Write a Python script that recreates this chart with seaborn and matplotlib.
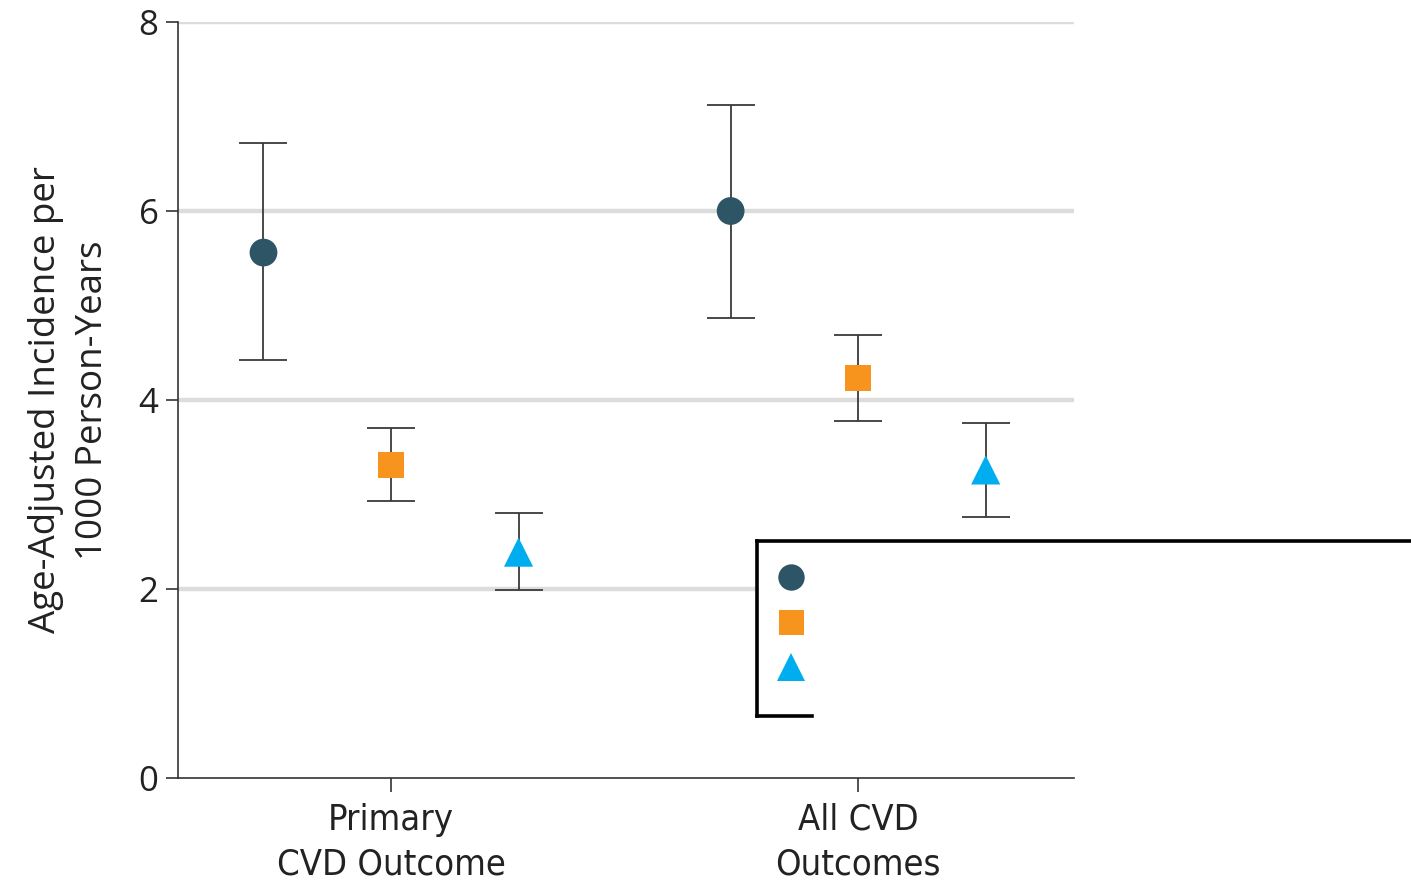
import matplotlib
matplotlib.use("Agg")
import matplotlib.pyplot as plt
from matplotlib.lines import Line2D
import pandas as pd
import seaborn as sns

# Age-adjusted incidence (per 1000 person-years) with 95% CIs
outcomes = ["Primary\nCVD Outcome", "All CVD\nOutcomes"]
groups = ["Group 1", "Group 2", "Group 3"]
rate = [[5.56, 3.31, 2.39], [6.00, 4.23, 3.26]]
ci_low = [[4.42, 2.93, 1.99], [4.87, 3.78, 2.76]]
ci_high = [[6.72, 3.70, 2.80], [7.12, 4.69, 3.76]]
yticks = [0, 2, 4, 6, 8]

colors = ["#2e5566", "#f7941d", "#00aeef"]
markers = ["o", "s", "^"]
sizes = [20, 19, 21]

sns.set_theme(style="white")
plt.rcParams["font.family"] = ["Open Sans", "DejaVu Sans"]

rows = []
for i, oc in enumerate(outcomes):
    for j, g in enumerate(groups):
        rows.append(dict(outcome=oc, oi=i, group=g, gi=j,
                         rate=rate[i][j], lo=ci_low[i][j], hi=ci_high[i][j]))
df = pd.DataFrame(rows)
dodge = 0.273
df["xpos"] = df["oi"] + (df["gi"] - 1) * dodge

fig = plt.figure(figsize=(14.11, 8.82), dpi=100)
ax = fig.add_axes([178 / 1411, 1 - 778 / 882, (1074 - 178) / 1411, (778 - 22) / 882])

for y in yticks[1:]:
    ax.axhline(y, color="#dcdcdc", lw=3.2, zorder=0)

# confidence intervals
ax.errorbar(df["xpos"], df["rate"],
            yerr=[df["rate"] - df["lo"], df["hi"] - df["rate"]],
            fmt="none", ecolor="#3a3a3a", elinewidth=1.3, capsize=17, capthick=1.3, zorder=2)

for j, g in enumerate(groups):
    sub = df[df["group"] == g]
    sns.scatterplot(data=sub, x="xpos", y="rate", ax=ax, marker=markers[j],
                    s=sizes[j] ** 2, color=colors[j], edgecolor="none",
                    linewidth=0, zorder=3, legend=False)

ax.set_xlim(-0.456, 1.462)
ax.set_ylim(0, 8)
ax.set_xticks(range(len(outcomes)))
ax.set_xticklabels(outcomes, fontsize=26, family="DejaVu Sans", fontstretch="condensed",
                   color="#222222", linespacing=1.38)
ax.set_yticks(yticks)
ax.set_yticklabels([str(v) for v in yticks], fontsize=25, color="#222222")
ax.set_xlabel("")
ax.set_ylabel("Age-Adjusted Incidence per\n1000 Person-Years", fontsize=26.5,
              color="#222222", linespacing=1.4, labelpad=20)
ax.tick_params(axis="y", direction="out", length=9, width=1.2, color="#333333", pad=5, left=True)
ax.tick_params(axis="x", direction="out", length=10, width=1.2, color="#333333", pad=8, bottom=True)
for side in ["top", "right"]:
    ax.spines[side].set_visible(False)
for side in ["left", "bottom"]:
    ax.spines[side].set_color("#333333")
    ax.spines[side].set_linewidth(1.2)

# legend box (markers only)
W, H = 1411, 882
def fx(px):
    return px / W
def fy(py):
    return 1 - py / H
fig.patches.append(plt.Rectangle((fx(757), fy(716)), fx(1411) - fx(757), fy(541) - fy(716),
                                 transform=fig.transFigure, facecolor="white",
                                 edgecolor="none", zorder=5))
for xs, ys in [((757, 1411), (541, 541)), ((757, 757), (541, 716)), ((757, 812), (716, 716))]:
    fig.lines.append(Line2D([fx(xs[0]), fx(xs[1])], [fy(ys[0]), fy(ys[1])],
                            transform=fig.transFigure, color="black", lw=2.6, zorder=6,
                            solid_capstyle="projecting"))
for j, py in enumerate([577, 622, 667]):
    fig.lines.append(Line2D([fx(791)], [fy(py)], transform=fig.transFigure,
                            marker=markers[j], markersize=sizes[j] - 1, color=colors[j],
                            markeredgewidth=0, linestyle="none", zorder=7))

fig.savefig("out.png", dpi=100)
